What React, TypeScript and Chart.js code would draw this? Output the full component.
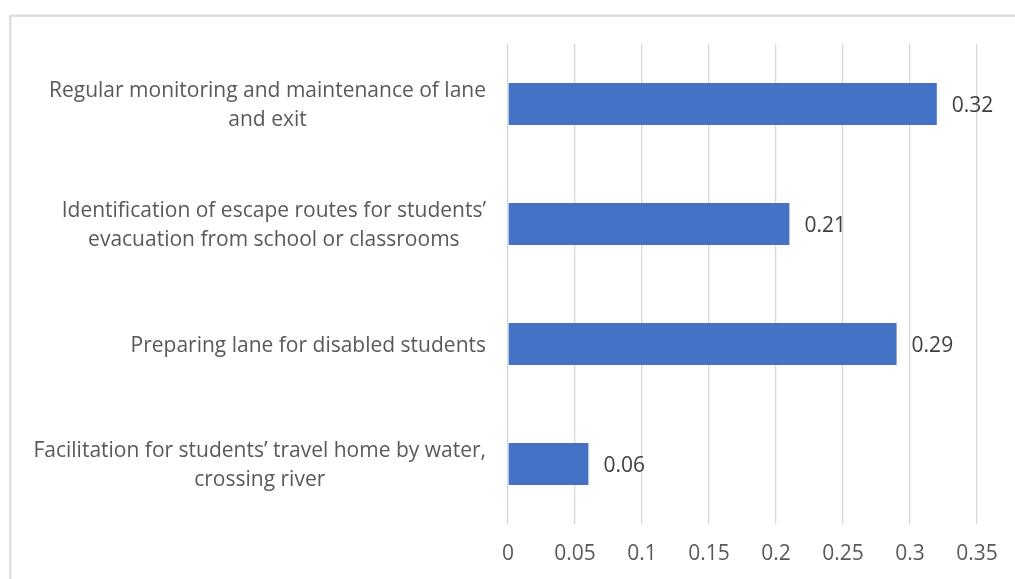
import React, { useEffect, useRef } from "react";
import { Chart, registerables } from "chart.js";

Chart.register(...registerables);

const categoryLabels: string[][] = [
  ["Regular monitoring and maintenance of lane", "and exit"],
  ["Identification of escape routes for students’", "evacuation from school or classrooms"],
  ["Preparing lane for disabled students"],
  ["Facilitation for students’ travel home by water,", "crossing river"],
];
const values: number[] = [0.32, 0.21, 0.29, 0.06];
const valueLabels: string[] = ["0.32", "0.21", "0.29", "0.06"];
const xTickLabels: string[] = ["0", "0.05", "0.1", "0.15", "0.2", "0.25", "0.3", "0.35"];

const FONT_FAMILY = "'Open Sans', sans-serif";
const FONT_SIZE = 21;
const LABEL_COLOR = "#595959";
const VALUE_COLOR = "#404040";
const GRID_COLOR = "#d9d9d9";
const BAR_COLOR = "#4472C4";

const framePlugin = {
  id: "frame",
  beforeDraw(chart: any) {
    const ctx = chart.ctx;
    ctx.save();
    ctx.strokeStyle = GRID_COLOR;
    ctx.lineWidth = 2;
    ctx.beginPath();
    ctx.moveTo(10.3, chart.height + 5);
    ctx.lineTo(10.3, 15.7);
    ctx.lineTo(chart.width + 5, 15.7);
    ctx.stroke();
    ctx.restore();
  },
};

const labelsPlugin = {
  id: "customLabels",
  afterDatasetsDraw(chart: any) {
    const ctx = chart.ctx;
    const yScale = chart.scales.y;
    const area = chart.chartArea;
    ctx.save();
    ctx.font = `${FONT_SIZE}px ${FONT_FAMILY}`;
    ctx.textBaseline = "middle";
    // category labels: right-aligned block, centred lines
    const right = area.left - 22;
    const lineH = 29;
    categoryLabels.forEach((lines, i) => {
      const cy = yScale.getPixelForValue(i) + 2;
      const blockW = Math.max(...lines.map((l) => ctx.measureText(l).width));
      const cx = right - blockW / 2;
      ctx.fillStyle = LABEL_COLOR;
      ctx.textAlign = "center";
      lines.forEach((l, j) => {
        const y = cy + (j - (lines.length - 1) / 2) * lineH;
        ctx.fillText(l, cx, y);
      });
    });
    // value labels
    const meta = chart.getDatasetMeta(0);
    ctx.textAlign = "left";
    ctx.fillStyle = VALUE_COLOR;
    meta.data.forEach((bar: any, i: number) => {
      ctx.fillText(valueLabels[i], bar.x + 15, bar.y + 2.5);
    });
    ctx.restore();
  },
};

export default function App() {
  const canvasRef = useRef<HTMLCanvasElement | null>(null);

  useEffect(() => {
    document.body.style.margin = "0";
    const canvas = canvasRef.current;
    if (!canvas) return;
    const chart = new Chart(canvas, {
      type: "bar",
      data: {
        labels: categoryLabels.map((l) => l.join(" ")),
        datasets: [
          {
            data: values,
            backgroundColor: BAR_COLOR,
            borderWidth: 0,
            barPercentage: 0.7,
            categoryPercentage: 0.5,
          },
        ],
      },
      options: {
        indexAxis: "y",
        animation: false,
        responsive: false,
        maintainAspectRatio: false,
        layout: { padding: { left: 508, top: 44, right: 38, bottom: 0 } },
        plugins: {
          legend: { display: false },
          tooltip: { enabled: false },
        },
        scales: {
          x: {
            min: 0,
            max: 0.35,
            ticks: {
              stepSize: 0.05,
              padding: 17,
              color: LABEL_COLOR,
              font: { family: FONT_FAMILY, size: FONT_SIZE },
              callback: (_v: any, i: number) => xTickLabels[i],
            },
            grid: { color: GRID_COLOR, lineWidth: 1.3, drawTicks: false },
            border: { display: false },
            afterFit: (scale: any) => {
              scale.height = 55;
            },
          },
          y: {
            display: false,
          },
        },
      },
      plugins: [framePlugin, labelsPlugin],
    });
    return () => chart.destroy();
  }, []);

  return (
    <div style={{ width: 1015, height: 579 }}>
      <canvas ref={canvasRef} width={1015} height={579} style={{ display: "block" }} />
    </div>
  );
}
